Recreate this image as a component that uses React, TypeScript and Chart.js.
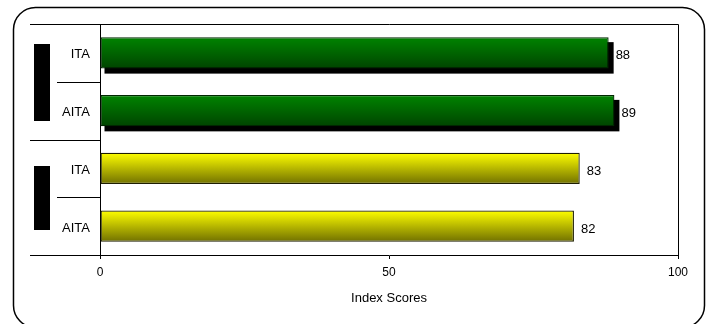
import { useEffect, useRef } from "react";
import { Chart, registerables } from "chart.js";

Chart.register(...registerables);

// Rows of the chart, top to bottom
const categories = ["ITA", "AITA", "ITA", "AITA"];
const scores = [88, 89, 83, 82];
// Block (0 = upper, 1 = lower) each row belongs to
const rowBlock = [0, 0, 1, 1];
const xTickValues = [0, 50, 100];
const xAxisTitle = "Index Scores";

const FONT = "'Liberation Sans', Arial, Helvetica, sans-serif";
const BAR_PCT = 0.545;

const blockStyles = [
  { top: "#008400", bottom: "#004400", border: "#002800", shadow: true },
  { top: "#ffff00", bottom: "#707000", border: "#1e1e00", shadow: false },
];

function barGradient(c: any) {
  const chart = c.chart;
  const style = blockStyles[rowBlock[c.dataIndex] ?? 0];
  const area = chart.chartArea;
  const ys = chart.scales?.y;
  if (!area || !ys || c.dataIndex == null) return style.top;
  const center = ys.getPixelForValue(c.dataIndex);
  const half = ((area.bottom - area.top) / categories.length) * BAR_PCT / 2;
  const g = chart.ctx.createLinearGradient(0, center - half, 0, center + half);
  g.addColorStop(0, style.top);
  g.addColorStop(1, style.bottom);
  return g;
}

function roundedRect(ctx: CanvasRenderingContext2D, x: number, y: number, w: number, h: number, r: number) {
  ctx.beginPath();
  ctx.moveTo(x + r, y);
  ctx.lineTo(x + w - r, y);
  ctx.arcTo(x + w, y, x + w, y + r, r);
  ctx.lineTo(x + w, y + h - r);
  ctx.arcTo(x + w, y + h, x + w - r, y + h, r);
  ctx.lineTo(x + r, y + h);
  ctx.arcTo(x, y + h, x, y + h - r, r);
  ctx.lineTo(x, y + r);
  ctx.arcTo(x, y, x + r, y, r);
  ctx.closePath();
}

const decorations = {
  id: "decorations",
  beforeDraw(chart: any) {
    const { ctx } = chart;
    ctx.save();
    ctx.fillStyle = "#fff";
    ctx.fillRect(0, 0, chart.width, chart.height);
    ctx.strokeStyle = "#000";
    ctx.lineWidth = 1.5;
    roundedRect(ctx, 13.5, 7.5, 691, 320, 22);
    ctx.stroke();
    ctx.restore();
  },
  beforeDatasetsDraw(chart: any) {
    const { ctx } = chart;
    const meta = chart.getDatasetMeta(0);
    ctx.save();
    ctx.fillStyle = "#000";
    meta.data.forEach((el: any, i: number) => {
      if (!blockStyles[rowBlock[i]].shadow) return;
      const { x, y, base, height } = el.getProps(["x", "y", "base", "height"], true);
      ctx.fillRect(base + 4, y - height / 2 + 5, x - base + 1, height);
    });
    ctx.restore();
  },
  afterDatasetsDraw(chart: any) {
    const { ctx, chartArea: a } = chart;
    const ys = chart.scales.y;
    const meta = chart.getDatasetMeta(0);
    ctx.save();

    // value labels
    ctx.fillStyle = "#000";
    ctx.font = `13px ${FONT}`;
    ctx.textAlign = "left";
    ctx.textBaseline = "middle";
    meta.data.forEach((el: any, i: number) => {
      const { x, y } = el.getProps(["x", "y"], true);
      ctx.fillText(String(scores[i]), x + 7, y + 3);
    });

    // plot frame: top and right edges
    ctx.strokeStyle = "#000";
    ctx.lineWidth = 1;
    ctx.beginPath();
    ctx.moveTo(a.left, a.top + 0.5);
    ctx.lineTo(a.right + 0.5, a.top + 0.5);
    ctx.lineTo(a.right + 0.5, a.bottom);
    ctx.stroke();

    // row separators in the label column
    const n = categories.length;
    for (let k = 0; k <= n; k++) {
      let yPix: number;
      if (k === 0) yPix = a.top;
      else if (k === n) yPix = a.bottom;
      else yPix = (ys.getPixelForValue(k - 1) + ys.getPixelForValue(k)) / 2;
      const blockEdge = k === 0 || k === n || rowBlock[k] !== rowBlock[k - 1];
      const x0 = blockEdge ? 30 : 57;
      ctx.beginPath();
      ctx.moveTo(x0, Math.round(yPix) + 0.5);
      ctx.lineTo(a.left, Math.round(yPix) + 0.5);
      ctx.stroke();
    }

    // block markers beside the row labels
    const blocks = Array.from(new Set(rowBlock));
    const markerHeights = [77, 64];
    ctx.fillStyle = "#000";
    blocks.forEach((b) => {
      const rows = rowBlock.map((v, i) => (v === b ? i : -1)).filter((i) => i >= 0);
      const c = (ys.getPixelForValue(rows[0]) + ys.getPixelForValue(rows[rows.length - 1])) / 2;
      const h = markerHeights[b] ?? 64;
      ctx.fillRect(34, Math.round(c - h / 2) + 1, 16, h);
    });
    ctx.restore();
  },
};

export default function App() {
  const canvasRef = useRef<HTMLCanvasElement | null>(null);

  useEffect(() => {
    const canvas = canvasRef.current;
    if (!canvas) return;
    const chart = new Chart(canvas, {
      type: "bar",
      data: {
        labels: categories,
        datasets: [
          {
            data: scores,
            backgroundColor: barGradient,
            borderColor: (c: any) => blockStyles[rowBlock[c.dataIndex] ?? 0].border,
            borderWidth: 1.3,
            borderSkipped: false,
            categoryPercentage: 1,
            barPercentage: BAR_PCT,
          },
        ],
      },
      options: {
        indexAxis: "y",
        responsive: false,
        animation: false,
        events: [],
        layout: { padding: { top: 24, right: 30, left: 0, bottom: 0 } },
        plugins: {
          legend: { display: false },
          tooltip: { enabled: false },
        },
        scales: {
          x: {
            type: "linear",
            min: 0,
            max: 100,
            afterBuildTicks: (s: any) => {
              s.ticks = xTickValues.map((v) => ({ value: v }));
            },
            ticks: {
              color: "#000",
              font: { family: FONT, size: 12 },
              padding: 6,
              maxRotation: 0,
            },
            grid: { drawOnChartArea: false, drawTicks: true, tickLength: 4, color: "#000" },
            border: { display: true, color: "#000", width: 1 },
            title: {
              display: true,
              text: xAxisTitle,
              color: "#000",
              font: { family: FONT, size: 13 },
              padding: { top: 4, bottom: 18 },
            },
            afterFit: (s: any) => {
              s.height = 69;
            },
          },
          y: {
            type: "category",
            ticks: {
              color: "#000",
              font: { family: FONT, size: 13 },
              padding: 10,
              labelOffset: 2,
            },
            grid: { display: true, drawOnChartArea: false, drawTicks: false },
            border: { display: true, color: "#000", width: 1 },
            afterFit: (s: any) => {
              s.width = 100;
            },
          },
        },
      },
      plugins: [decorations],
    });
    return () => chart.destroy();
  }, []);

  return (
    <div style={{ position: "fixed", left: 0, top: 0, width: 708, height: 324, background: "#fff" }}>
      <canvas ref={canvasRef} width={708} height={324} style={{ display: "block" }} />
    </div>
  );
}
